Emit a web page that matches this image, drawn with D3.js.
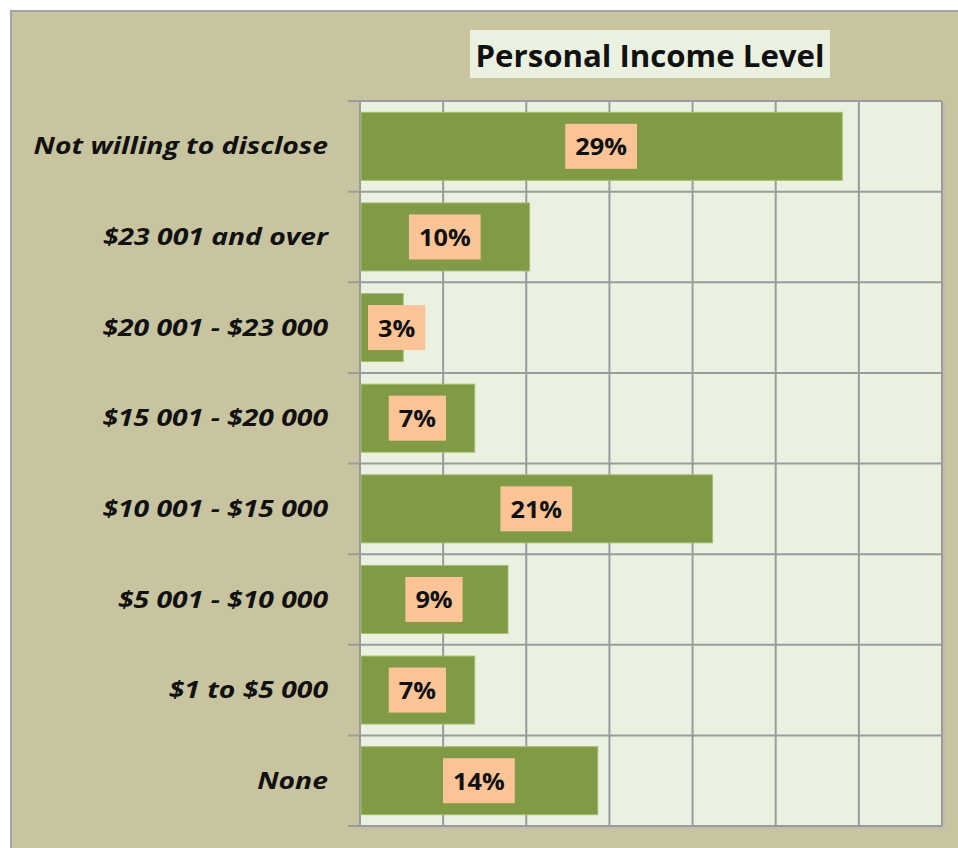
<!DOCTYPE html>
<html lang="en">
<head>
<meta charset="utf-8">
<script src="https://cdn.jsdelivr.net/npm/d3@7"></script>
<style>
  html, body { margin: 0; padding: 0; background: #fff; }
  svg { display: block; }
</style>
</head>
<body>
<script>
// data, top to bottom
const categories = [
  "Not willing to disclose",
  "$23 001 and over",
  "$20 001 - $23 000",
  "$15 001 - $20 000",
  "$10 001 - $15 000",
  "$5 001 - $10 000",
  "$1 to $5 000",
  "None"
];
const shares = [29.0, 10.2, 2.6, 6.9, 21.2, 8.9, 6.9, 14.3];
const xTicks = [0, 5, 10, 15, 20, 25, 30, 35];
const title = "Personal Income Level";

const width = 958, height = 848;
const plot = {left: 360, right: 942, top: 101, bottom: 826};
const font = "'Open Sans', Lato, sans-serif";

const svg = d3.select("body")
  .append("svg")
  .attr("width", width)
  .attr("height", height);

// outer chart area
svg.append("rect")
  .attr("x", 11).attr("y", 11)
  .attr("width", width).attr("height", height)
  .attr("fill", "#c9c4a0")
  .attr("stroke", "#a3a3a3")
  .attr("stroke-width", 2);

const x = d3.scaleLinear()
  .domain([0, 35])
  .range([plot.left, plot.right]);

const y = d3.scaleBand()
  .domain(categories)
  .range([plot.top, plot.bottom])
  .paddingInner(0.25)
  .paddingOuter(0.125);

// plot background
svg.append("rect")
  .attr("x", plot.left).attr("y", plot.top)
  .attr("width", plot.right - plot.left)
  .attr("height", plot.bottom - plot.top)
  .attr("fill", "#ebf1e1");

// vertical gridlines
svg.append("g")
  .selectAll("line")
  .data(xTicks)
  .join("line")
  .attr("x1", d => x(d)).attr("x2", d => x(d))
  .attr("y1", plot.top).attr("y2", plot.bottom)
  .attr("stroke", "#9b9b9b")
  .attr("stroke-width", 2);

// horizontal band boundaries (with left tick marks)
const step = y.step();
const bounds = d3.range(categories.length + 1).map(i => plot.top + i * step);
svg.append("g")
  .selectAll("line")
  .data(bounds)
  .join("line")
  .attr("x1", plot.left - 12).attr("x2", plot.right)
  .attr("y1", d => d).attr("y2", d => d)
  .attr("stroke", "#9b9b9b")
  .attr("stroke-width", 2);

// right/bottom shadow edge
svg.append("path")
  .attr("d", `M${plot.right + 2},${plot.top + 2}V${plot.bottom + 2}H${plot.left}`)
  .attr("fill", "none")
  .attr("stroke", "#bdbdb0")
  .attr("stroke-width", 2);

// bars
svg.append("g")
  .selectAll("rect")
  .data(categories)
  .join("rect")
  .attr("x", x(0) + 1)
  .attr("y", d => y(d))
  .attr("width", (d, i) => x(shares[i]) - x(0) - 1)
  .attr("height", y.bandwidth())
  .attr("fill", "#809a45")
  .attr("stroke", "#a3bb72")
  .attr("stroke-width", 1);

// value labels (text a little wider than Open Sans, like the original)
const fmt = v => d3.format(".0f")(v) + "%";
const valScale = 1.1;
const labels = svg.append("g")
  .selectAll("g")
  .data(categories)
  .join("g");

labels.each(function(d, i) {
  const g = d3.select(this);
  const cy = y(d) + y.bandwidth() / 2;
  const tg = g.append("g");
  const txt = tg.append("text")
    .attr("text-anchor", "middle")
    .attr("dominant-baseline", "central")
    .attr("font-family", font)
    .attr("font-weight", "bold")
    .attr("font-size", 23)
    .attr("fill", "#111")
    .text(fmt(shares[i]));
  const tw = txt.node().getComputedTextLength() * valScale;
  const bw = tw + 20, bh = 45;
  let cx = (x(0) + x(shares[i])) / 2;
  cx = Math.max(cx, x(0) + 8 + bw / 2);
  tg.attr("transform", `translate(${cx},${cy}) scale(${valScale},1)`);
  g.insert("rect", "g")
    .attr("x", cx - bw / 2)
    .attr("y", cy - bh / 2)
    .attr("width", bw)
    .attr("height", bh)
    .attr("fill", "#fbc497");
});

// category labels
svg.append("g")
  .selectAll("g")
  .data(categories)
  .join("g")
  .attr("transform", d => `translate(328,${y(d) + y.bandwidth() / 2 - 1}) scale(1.18,1)`)
  .append("text")
  .attr("text-anchor", "end")
  .attr("dominant-baseline", "central")
  .attr("font-family", font)
  .attr("font-weight", "bold")
  .attr("font-style", "italic")
  .attr("font-size", 24)
  .attr("fill", "#111")
  .text(d => d);

// title
svg.append("rect")
  .attr("x", 470).attr("y", 30)
  .attr("width", 360).attr("height", 48)
  .attr("fill", "#ebf1e1");
svg.append("g")
  .attr("transform", "translate(650,55) scale(1.04,1)")
  .append("text")
  .attr("text-anchor", "middle")
  .attr("dominant-baseline", "central")
  .attr("font-family", font)
  .attr("font-weight", "bold")
  .attr("font-size", 30)
  .attr("fill", "#111")
  .text(title);
</script>
</body>
</html>
